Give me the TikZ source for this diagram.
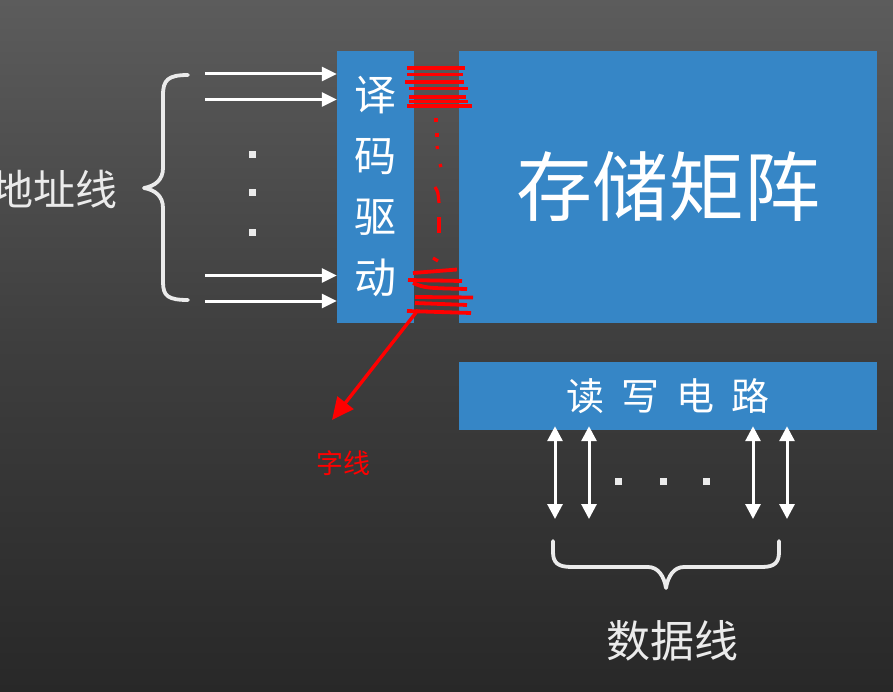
\documentclass[tikz,border=0pt]{standalone}
\usepackage{fontspec}
\newfontfamily\cjk{Noto Sans CJK SC}
\usetikzlibrary{arrows.meta}
\definecolor{boxblue}{RGB}{54,134,198}
\definecolor{bgtop}{RGB}{92,92,92}
\definecolor{bgmid}{RGB}{62,62,62}
\definecolor{bgbot}{RGB}{40,40,40}
\begin{document}
\begin{tikzpicture}[x=1pt,y=-1pt,
  bluebox/.style={draw=none,fill=boxblue,inner sep=0pt,text=white,font=\cjk},
  addr/.style={draw=white,line width=3pt,-{Triangle[length=15pt,width=14pt]}},
  dataarr/.style={draw=white,line width=3pt,{Triangle[length=15pt,width=15pt]}-{Triangle[length=15pt,width=15pt]}},
  brace/.style={draw=white!92!black,line width=3.8pt,line cap=round,line join=round},
  dotsq/.style={fill=white!92!black,minimum size=7pt,inner sep=0pt,draw=none},
  scrib/.style={draw=red,line width=3.8pt},
  lbl/.style={text=white!92!black,font=\cjk,inner sep=0pt}]
\useasboundingbox (0,0) rectangle (893,692);
\clip (0,0) rectangle (893,692);
\shade[top color=bgtop,bottom color=bgbot,middle color=bgmid] (0,0) rectangle (893,692);

% boxes
\node[bluebox,minimum width=77pt,minimum height=271pt,align=center,
      font=\cjk\fontsize{42}{61}\selectfont] (dec) at (375.5,187) {译\\码\\驱\\动};
\node[bluebox,minimum width=418pt,minimum height=271pt,
      font=\cjk\fontsize{76}{80}\selectfont] (mem) at (668,187) {存储矩阵};
\node[bluebox,minimum width=418pt,minimum height=68pt,
      font=\cjk\fontsize{38}{40}\selectfont] (rw) at (668,396)
      {读\hspace{17pt}写\hspace{17pt}电\hspace{17pt}路};

% address lines
\coordinate (a1) at (205,74);
\coordinate (a2) at (205,99.5);
\coordinate (a3) at (205,275.5);
\coordinate (a4) at (205,301);
\foreach \c in {a1,a2,a3,a4} \draw[addr] (\c) -- (dec.west |- \c);
\node[dotsq] (ad1) at (252,155) {};
\node[dotsq] (ad2) at (252,193) {};
\node[dotsq] (ad3) at (252,233) {};

% left brace
\draw[brace] (188,75) .. controls (168,75) and (163,80) .. (163,95)
  -- (163,168) .. controls (163,180) and (155,186) .. (144,188)
  .. controls (155,190) and (163,196) .. (163,208)
  -- (163,282) .. controls (163,296) and (168,300) .. (188,300);
\node[lbl,font=\cjk\fontsize{42}{44}\selectfont] (addrlbl) at (54,189) {地址线};

% data lines
\coordinate (d1) at (555,519);
\coordinate (d2) at (589,519);
\coordinate (d3) at (753,519);
\coordinate (d4) at (787,519);
\foreach \c in {d1,d2,d3,d4} \draw[dataarr] ([yshift=4pt]rw.south -| \c) -- (\c);
\node[dotsq] (dd1) at (618,481) {};
\node[dotsq] (dd2) at (663,481) {};
\node[dotsq] (dd3) at (706,481) {};

% bottom brace
\draw[brace] (553,541) -- (553,552) .. controls (553,563) and (558,567) .. (572,567)
  -- (648,567) .. controls (658,567) and (664,576) .. (666,588)
  .. controls (668,576) and (674,567) .. (684,567)
  -- (762,567) .. controls (775,567) and (779,562) .. (779,552) -- (779,541);
\node[lbl,font=\cjk\fontsize{44}{46}\selectfont] (datalbl) at (672,641) {数据线};

% red scribbles (word lines)
\draw[scrib] (407,68) -- (465,68);
\draw[scrib] (407,74.5) -- (463,74.5);
\draw[scrib] (405,82) -- (464,82);
\draw[scrib] (409,88.5) -- (468,88.5);
\draw[scrib] (409,97) -- (466,97);
\draw[scrib] (409,101.5) -- (468,101.5);
\draw[scrib] (407,106) -- (472,106);
\draw[scrib] (413,273) -- (457,269.5);
\draw[scrib] (408,280) -- (462,281);
\draw[scrib] (413,283) .. controls (425,288) .. (467,289);
\draw[scrib] (415,297) -- (473,297.5);
\draw[scrib] (415,303) -- (467,305);
\draw[scrib] (407,311) -- (471,313);
% dotted vertical
\draw[scrib,line width=3.2pt] (436,118) -- (436,122);
\draw[scrib,line width=3.2pt] (437,133) -- (437,137);
\draw[scrib,line width=3.2pt] (437,146) -- (437.5,149);
\draw[scrib,line width=3.2pt] (440,164) -- (441,167);
\draw[scrib,line width=3.2pt] (435,187) .. controls (438,192) .. (439,203);
\draw[scrib,line width=3.2pt] (439,217) -- (439,233);
\draw[scrib,line width=3.2pt] (433,258) -- (438,261);

% word-line arrow
\coordinate (wstart) at (418,310);
\node[text=red,font=\cjk\fontsize{27}{29}\selectfont,inner sep=0pt] (wlbl) at (343,463) {字线};
\coordinate (wend) at (332,420);
\draw[draw=red,line width=3.4pt,-{Triangle[length=22pt,width=20pt]}] (wstart) -- (wend);
\end{tikzpicture}
\end{document}
